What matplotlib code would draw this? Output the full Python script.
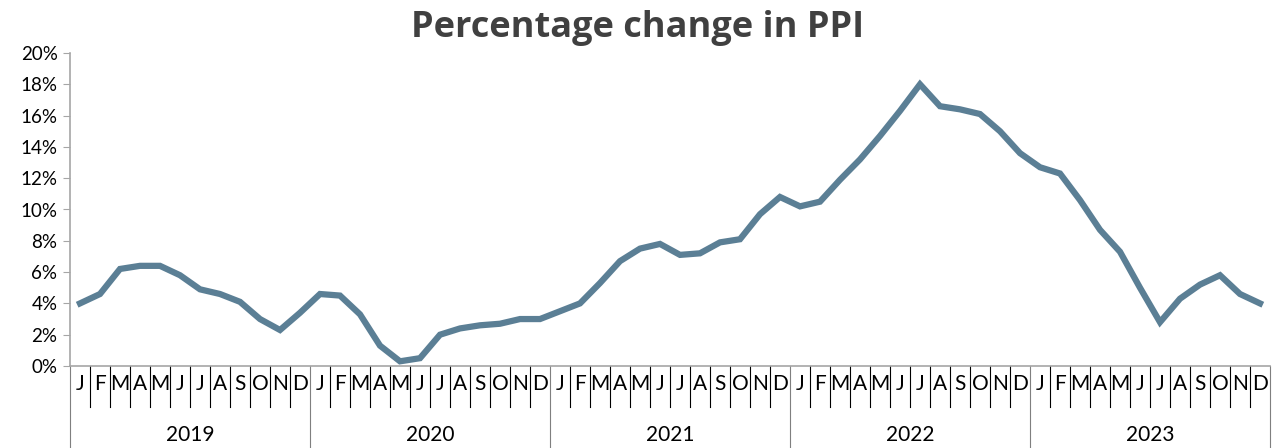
import numpy as np
import matplotlib.pyplot as plt
import matplotlib.transforms as mtransforms
from matplotlib.ticker import PercentFormatter

# =============================================================================
# Data
# =============================================================================
years = ['2019', '2020', '2021', '2022', '2023']
months = ['J', 'F', 'M', 'A', 'M', 'J', 'J', 'A', 'S', 'O', 'N', 'D']

ppi_2019 = [4.0, 4.6, 6.2, 6.4, 6.4, 5.8, 4.9, 4.6, 4.1, 3.0, 2.3, 3.4]
ppi_2020 = [4.6, 4.5, 3.3, 1.3, 0.3, 0.5, 2.0, 2.4, 2.6, 2.7, 3.0, 3.0]
ppi_2021 = [3.5, 4.0, 5.3, 6.7, 7.5, 7.8, 7.1, 7.2, 7.9, 8.1, 9.7, 10.8]
ppi_2022 = [10.2, 10.5, 11.9, 13.2, 14.7, 16.3, 18.0, 16.6, 16.4, 16.1, 15.0, 13.6]
ppi_2023 = [12.7, 12.3, 10.6, 8.7, 7.3, 5.0, 2.8, 4.3, 5.2, 5.8, 4.6, 4.0]

ppi = np.array(ppi_2019 + ppi_2020 + ppi_2021 + ppi_2022 + ppi_2023)
x = np.arange(len(ppi))

# =============================================================================
# Plot
# =============================================================================
plt.rcParams['font.family'] = ['Lato', 'DejaVu Sans']
grey = '#A6A6A6'

fig = plt.figure(figsize=(12.76, 4.48), dpi=100)
ax = fig.add_axes([70 / 1276, 82 / 448, 1200 / 1276, 313 / 448])

ax.plot(x, ppi, color='#5B7F95', lw=4.5, solid_joinstyle='miter')

ax.set_xlim(-0.5, len(ppi) - 0.5)
ax.set_ylim(0, 20)
ax.set_yticks(np.arange(0, 21, 2))
ax.yaxis.set_major_formatter(PercentFormatter(decimals=0))
ax.tick_params(axis='y', length=5, color=grey, labelsize=13.5, pad=4)
ax.set_xticks([])

for s in ['top', 'right']:
    ax.spines[s].set_visible(False)
for s in ['left', 'bottom']:
    ax.spines[s].set_color(grey)
    ax.spines[s].set_linewidth(1.2)

# two-level category axis
trans = mtransforms.blended_transform_factory(ax.transData, ax.transAxes)
month_h = 41 / 313
year_h = 82 / 313
for k in range(len(ppi) + 1):
    bottom = -year_h if k % 12 == 0 else -month_h
    ax.plot([k - 0.5, k - 0.5], [0, bottom], color='black' if k % 12 else '#7F7F7F',
            lw=0.8, transform=trans, clip_on=False)
for i in x:
    ax.text(i, -18 / 313, months[i % 12], transform=trans, ha='center',
            va='center', fontsize=15)
for j, yr in enumerate(years):
    ax.text(j * 12 + 5.5, -69 / 313, yr, transform=trans, ha='center',
            va='center', fontsize=15)

fig.text(638 / 1276, 1 - 28 / 448, 'Percentage change in PPI', ha='center',
         va='center', fontsize=26, fontweight='bold', color='#404040',
         family='Open Sans')

fig.savefig('out.png', dpi=100)
